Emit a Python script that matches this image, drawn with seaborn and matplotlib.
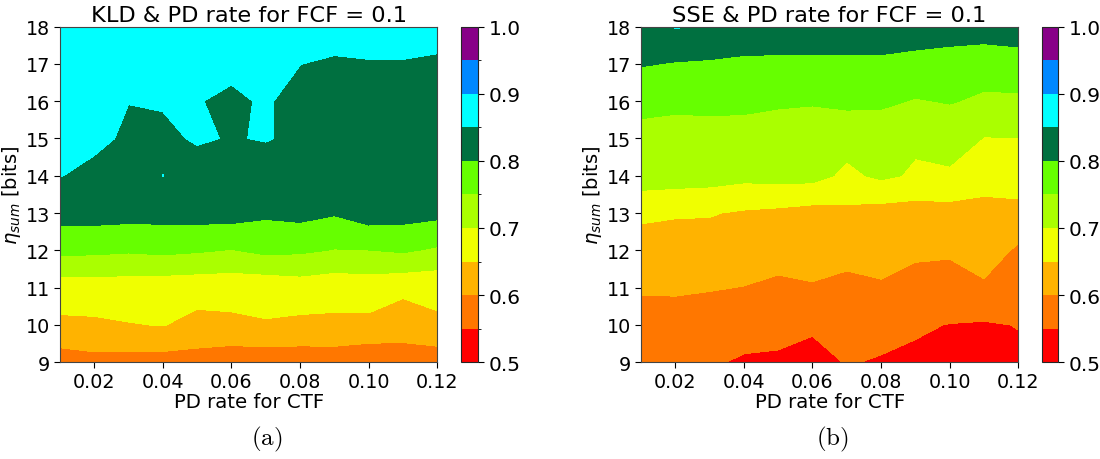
import numpy as np
import matplotlib
matplotlib.use("Agg")
import matplotlib.pyplot as plt
import seaborn as sns
from matplotlib.colors import ListedColormap, BoundaryNorm

# grid: PD rate for CTF (columns) x eta_sum in bits (rows)
pd_rate = [0.01, 0.02, 0.03, 0.04, 0.05, 0.06, 0.07, 0.08, 0.09, 0.10, 0.11, 0.12]
eta_sum = [9, 10, 11, 12, 13, 14, 15, 16, 17, 18]

# KLD panel, one row per eta_sum value
kld = [
    [0.5734, 0.5833, 0.5794, 0.579, 0.5771, 0.5665, 0.5674, 0.5681, 0.5688, 0.5584, 0.5747, 0.567],
    [0.6415, 0.6428, 0.6479, 0.6514, 0.6373, 0.6409, 0.6469, 0.6406, 0.6414, 0.640, 0.6224, 0.6437],
    [0.6718, 0.6741, 0.6738, 0.670, 0.6675, 0.6668, 0.6654, 0.6742, 0.6668, 0.6711, 0.6613, 0.6602],
    [0.7627, 0.7603, 0.7557, 0.7609, 0.7553, 0.7478, 0.7615, 0.7575, 0.7478, 0.7493, 0.7557, 0.7431],
    [0.8192, 0.8196, 0.8172, 0.8168, 0.8192, 0.8203, 0.8079, 0.8142, 0.8039, 0.8239, 0.819, 0.8125],
    [0.8516, 0.836, 0.83, 0.8505, 0.8287, 0.825, 0.823, 0.828, 0.82, 0.83, 0.83, 0.825],
    [0.87, 0.862, 0.842, 0.840, 0.855, 0.8473, 0.853, 0.840, 0.83, 0.835, 0.835, 0.83],
    [0.875, 0.87, 0.8508, 0.854, 0.85125, 0.845, 0.8531, 0.840, 0.835, 0.84, 0.84, 0.836],
    [0.88, 0.875, 0.865, 0.865, 0.865, 0.8566, 0.865, 0.8505, 0.845, 0.846, 0.846, 0.842],
    [0.885, 0.88, 0.875, 0.875, 0.875, 0.875, 0.875, 0.87, 0.8677, 0.88, 0.88, 0.8716],
]

# SSE panel
sse = [
    [0.565, 0.565, 0.5548, 0.545, 0.542, 0.535, 0.5522, 0.5468, 0.54, 0.535, 0.53, 0.54],
    [0.584, 0.583, 0.578, 0.5667, 0.5662, 0.5564, 0.57, 0.5628, 0.5564, 0.5484, 0.545, 0.5515],
    [0.604, 0.605, 0.6025, 0.599, 0.585, 0.595, 0.585, 0.594, 0.585, 0.5884, 0.595, 0.575],
    [0.628, 0.628, 0.627, 0.62, 0.6291, 0.6263, 0.6183, 0.6201, 0.6071, 0.6035, 0.6158, 0.595],
    [0.659, 0.654, 0.653, 0.6445, 0.6392, 0.6314, 0.6381, 0.6295, 0.6274, 0.632, 0.638, 0.6244],
    [0.7262, 0.7237, 0.7201, 0.713, 0.7162, 0.7161, 0.6897, 0.7084, 0.6939, 0.6901, 0.6647, 0.6918],
    [0.74, 0.738, 0.738, 0.735, 0.735, 0.735, 0.7168, 0.73, 0.7072, 0.7282, 0.6981, 0.6986],
    [0.7589, 0.7565, 0.7577, 0.7584, 0.754, 0.7522, 0.7605, 0.7556, 0.748, 0.7519, 0.745, 0.745],
    [0.8036, 0.797, 0.794, 0.785, 0.787, 0.787, 0.787, 0.787, 0.773, 0.78, 0.7635, 0.7677],
    [0.83, 0.853, 0.847, 0.852, 0.84, 0.84, 0.84, 0.84, 0.846, 0.8226, 0.831, 0.8395],
]

levels = [0.5, 0.55, 0.6, 0.65, 0.7, 0.75, 0.8, 0.85, 0.9, 0.95, 1.0]
band_colors = ["#ff0000", "#ff7700", "#ffb300", "#f0ff00", "#aaff00",
               "#66ff00", "#007040", "#00ffff", "#0088ff", "#880088"]
cbar_ticks = [0.5, 0.6, 0.7, 0.8, 0.9, 1.0]
x_ticks = [0.02, 0.04, 0.06, 0.08, 0.10, 0.12]
y_ticks = [9, 10, 11, 12, 13, 14, 15, 16, 17, 18]

sns.set_style("ticks")
plt.rcParams["font.family"] = ["DejaVu Sans"]
plt.rcParams.update({"text.color": "black", "axes.labelcolor": "black",
                     "xtick.color": "black", "ytick.color": "black"})

cmap = ListedColormap(sns.color_palette(band_colors))
norm = BoundaryNorm(levels, cmap.N)

fig = plt.figure(figsize=(11, 4.6), dpi=100)

# data, title, caption, axes left, colorbar left, colorbar width, caption x
panels = [
    (kld, "KLD & PD rate for FCF = 0.1", "(a)", 0.0545, 0.4191, 0.0157, 0.2427),
    (sse, "SSE & PD rate for FCF = 0.1", "(b)", 0.5827, 0.9470, 0.0150, 0.7570),
]

for data, title, tag, left, cb_left, cb_w, tag_x in panels:
    ax = fig.add_axes([left, 0.2102, 0.343, 0.730])
    cax = fig.add_axes([cb_left, 0.2102, cb_w, 0.730])
    X, Y = np.meshgrid(pd_rate, eta_sum)
    cs = ax.contourf(X, Y, np.array(data), levels=levels, cmap=cmap, norm=norm)
    ax.set_xlim(0.01, 0.12)
    ax.set_ylim(9, 18)
    ax.set_xticks(x_ticks)
    ax.set_xticklabels([f"{t:.2f}" for t in x_ticks])
    ax.set_yticks(y_ticks)
    ax.tick_params(labelsize=13.8, direction="out", length=4, pad=3)
    ax.set_title(title, fontsize=16.2, pad=4)
    ax.set_xlabel("PD rate for CTF", fontsize=14.2, labelpad=1)
    ax.set_ylabel(r"$\eta_{sum}$ [bits]", fontsize=14, labelpad=2)
    for sp in ax.spines.values():
        sp.set_linewidth(0.8)
        sp.set_color("#444444")

    cb = fig.colorbar(cs, cax=cax, ticks=cbar_ticks)
    cb.ax.minorticks_off()
    cb.ax.set_yticklabels([f"{t:.1f}" for t in cbar_ticks])
    cb.ax.tick_params(labelsize=14.5, length=4)
    cb.outline.set_linewidth(0.8)

    fig.text(tag_x, 0.045, r"$\mathrm{" + tag + "}$",
             ha="center", va="center", fontsize=18, math_fontfamily="cm")

fig.savefig("out.png", dpi=100)
